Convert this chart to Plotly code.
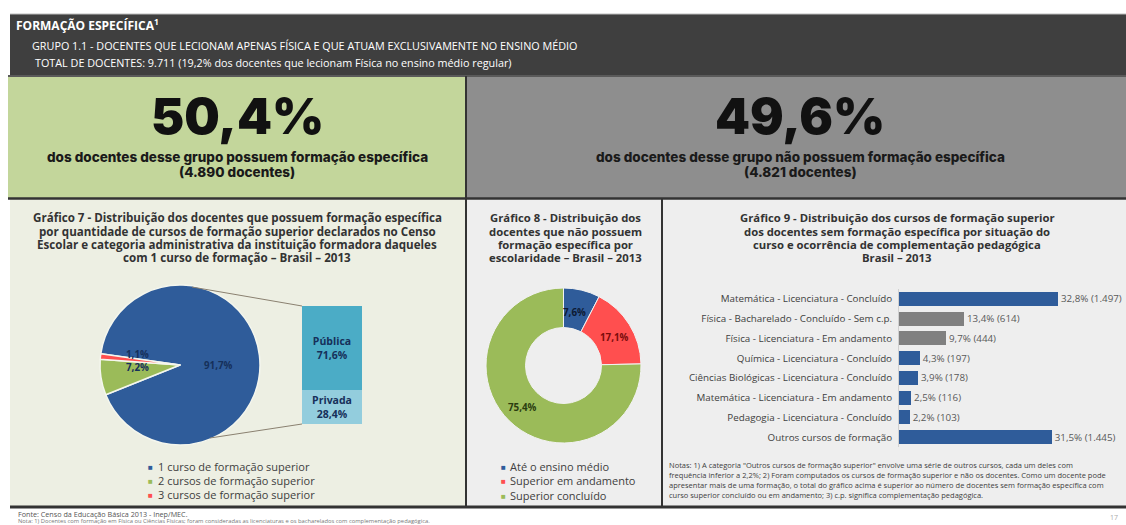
import plotly.graph_objects as go

W, H = 1126, 525

# ---------------- data ----------------
share_pct = [50.4, 49.6]
share_counts = ["4.890", "4.821"]
share_text = ["dos docentes desse grupo possuem formação específica",
              "dos docentes desse grupo não possuem formação específica"]

qtd_cats = ["1 curso de formação superior", "2 cursos de formação superior",
            "3 cursos de formação superior"]
qtd_vals = [91.7, 7.2, 1.1]
qtd_colors = ["#2f5c9a", "#9bbb59", "#ff4f4f"]

adm_cats = ["Privada", "Pública"]
adm_vals = [28.4, 71.6]
adm_colors = ["#93cddd", "#4bacc6"]

esc_cats = ["Até o ensino médio", "Superior em andamento", "Superior concluído"]
esc_vals = [7.6, 17.1, 75.4]
esc_colors = ["#2f5c9a", "#ff4f4f", "#9bbb59"]
esc_text_colors = ["#0d1a33", "#7a0c0c", "#2b3d10"]

curso_cats = ["Matemática - Licenciatura - Concluído",
              "Física - Bacharelado - Concluído - Sem c.p.",
              "Física - Licenciatura - Em andamento",
              "Química - Licenciatura - Concluído",
              "Ciências Biológicas - Licenciatura - Concluído",
              "Matemática - Licenciatura - Em andamento",
              "Pedagogia - Licenciatura - Concluído",
              "Outros cursos de formação"]
curso_pct = [32.8, 13.4, 9.7, 4.3, 3.9, 2.5, 2.2, 31.5]
curso_n = ["1.497", "614", "444", "197", "178", "116", "103", "1.445"]
curso_colors = ["#2f5c9a", "#808080", "#808080", "#2f5c9a",
                "#2f5c9a", "#2f5c9a", "#2f5c9a", "#2f5c9a"]


def br(v):
    return f"{v:.1f}".replace(".", ",") + "%"


def X(px):
    return px / W


def Y(py):
    return 1 - py / H


FONT = "Open Sans"
shapes = []
annotations = []


def rect(x0, y0, x1, y1, fill):
    shapes.append(dict(type="rect", xref="paper", yref="paper",
                       x0=X(x0), x1=X(x1), y0=Y(y1), y1=Y(y0),
                       fillcolor=fill, layer="below",
                       line=dict(color=fill, width=0)))


def seg(x0, y0, x1, y1, color, width=1, layer="above"):
    shapes.append(dict(type="line", xref="paper", yref="paper",
                       x0=X(x0), x1=X(x1), y0=Y(y0), y1=Y(y1), layer=layer,
                       line=dict(color=color, width=width)))


def text(px, py, s, size=10, color="#333333", weight=400, xanchor="center",
         align="center", family=FONT, yanchor="middle"):
    annotations.append(dict(x=X(px), y=Y(py), xref="paper", yref="paper",
                            text=s, showarrow=False, xanchor=xanchor,
                            yanchor=yanchor, align=align,
                            font=dict(family=family, size=size, color=color,
                                      weight=weight)))


def lines(px, py, rows, step, **kw):
    for i, row in enumerate(rows):
        text(px, py + i * step, row, **kw)


# ---------------- panels ----------------
rect(10, 14, 1126, 76, "#3f3f3f")
seg(10, 14, 1126, 14, "#bdbdbd", 1)
rect(8, 76, 466, 198, "#c3d69b")
rect(466, 76, 1126, 198, "#8e8e8e")
rect(10, 199, 466, 507, "#edefe3")
rect(466, 199, 662, 507, "#eeeeee")
rect(662, 199, 1126, 507, "#eeeeee")
seg(8, 76, 1126, 76, "#5a5a5a", 2)
seg(8, 198.5, 1126, 198.5, "#333333", 2.5)
seg(466, 76, 466, 507, "#333333", 2)
seg(662, 199, 662, 507, "#333333", 2)
seg(10, 507, 1126, 507, "#333333", 3)

# header
text(14, 25, "FORMAÇÃO ESPECÍFICA<sup>1</sup>", size=12, color="white",
     weight=700, xanchor="left")
text(30, 45, "GRUPO 1.1 - DOCENTES QUE LECIONAM APENAS FÍSICA E QUE ATUAM "
     "EXCLUSIVAMENTE NO ENSINO MÉDIO", size=10.8, color="white", xanchor="left")
text(33, 62, "TOTAL DE DOCENTES: 9.711 (19,2% dos docentes que lecionam Física "
     "no ensino médio regular)", size=10.8, color="white", xanchor="left")

# headline shares
for cx, pct, cnt, desc in zip([237, 800], share_pct, share_counts, share_text):
    text(cx, 116, br(pct), size=50, color="#111111", weight=900, family="Inter")
    text(cx, 157, desc, size=13.5, color="#1a1a1a", weight=800, family="Inter")
    text(cx, 172, f"({cnt} docentes)", size=13.5, color="#1a1a1a", weight=800,
         family="Inter")

# chart titles
TSTEP = 13.3
lines(237, 218, ["Gráfico 7 - Distribuição dos docentes que possuem formação específica",
                 "por quantidade de cursos de formação superior declarados no Censo",
                 "Escolar e categoria administrativa da instituição formadora daqueles",
                 "com 1 curso de formação – Brasil – 2013"],
      TSTEP, size=11.6, weight=700)
lines(565, 218, ["Gráfico 8 - Distribuição dos", "docentes que não possuem",
                 "formação específica por", "escolaridade – Brasil – 2013"],
      TSTEP, size=11.3, weight=700)
lines(897, 218, ["Gráfico 9 - Distribuição dos cursos de formação superior",
                 "dos docentes sem formação específica por situação do",
                 "curso e ocorrência de complementação pedagógica",
                 "Brasil – 2013"],
      TSTEP, size=11.3, weight=700)

# ---------------- Gráfico 7: pie + stacked box ----------------
fig = go.Figure()
fig.add_trace(go.Pie(values=qtd_vals, labels=qtd_cats, sort=False,
                     direction="clockwise", rotation=-82,
                     marker=dict(colors=qtd_colors, line=dict(color="#f4f6ee", width=1.5)),
                     textinfo="none", showlegend=False, hoverinfo="label+percent",
                     domain=dict(x=[X(100), X(260)], y=[Y(445), Y(285)])))
text(218, 365, br(qtd_vals[0]), size=9.8, weight=700, color="#16305a")
text(137, 367, br(qtd_vals[1]), size=9.8, weight=700, color="#16305a")
text(137, 354, br(qtd_vals[2]), size=9.8, weight=700, color="#16305a")

# connector lines from pie to the breakdown box
seg(192, 287, 302, 306, "#8a8070", 1)
seg(210, 438, 302, 424, "#8a8070", 1)

for cat, val, col in zip(adm_cats, adm_vals, adm_colors):
    fig.add_trace(go.Bar(x=[0], y=[val], width=1, xaxis="x2", yaxis="y2",
                         marker=dict(color=col, line=dict(width=0)),
                         text=[f"<b>{cat}</b><br><b>{br(val)}</b>"],
                         textposition="inside", insidetextanchor="middle",
                         textangle=0, constraintext="none",
                         textfont=dict(family=FONT, size=10.5, color="#16305a"),
                         showlegend=False, hoverinfo="skip"))

for i, (cat, col) in enumerate(zip(qtd_cats, qtd_colors)):
    py = 466 + 14 * i
    text(146, py, "■", size=8, color=col, xanchor="left")
    text(156, py, cat, size=11, color="#404040", xanchor="left")

# ---------------- Gráfico 8: donut ----------------
fig.add_trace(go.Pie(values=esc_vals, labels=esc_cats, sort=False, hole=0.49,
                     direction="clockwise", rotation=0,
                     marker=dict(colors=esc_colors, line=dict(color="#f2f2f2", width=1)),
                     textinfo="none", showlegend=False, hoverinfo="label+percent",
                     domain=dict(x=[X(486), X(641)], y=[Y(443), Y(288)])))
for (lx, ly), val, col in zip([(574, 312), (614, 337), (522, 407)], esc_vals,
                              esc_text_colors):
    text(lx, ly, br(val), size=9.8, weight=700, color=col)

for i, (cat, col) in enumerate(zip(esc_cats, esc_colors)):
    py = 466 + 14.5 * i
    text(499, py, "■", size=8, color=col, xanchor="left")
    text(508, py, cat, size=11, color="#404040", xanchor="left")

# ---------------- Gráfico 9: horizontal bars ----------------
fig.add_trace(go.Bar(y=curso_cats, x=curso_pct, orientation="h",
                     marker=dict(color=curso_colors, line=dict(width=0)),
                     text=[f"{br(p)} ({n})" for p, n in zip(curso_pct, curso_n)],
                     textposition="outside", cliponaxis=False, constraintext="none",
                     textfont=dict(family=FONT, size=9.8, color="#595959"),
                     showlegend=False, hoverinfo="x+y"))

lines(667, 465, ["Notas: 1) A categoria \"Outros cursos de formação superior\" envolve uma série de outros cursos, cada um deles com",
                 "frequência inferior a 2,2%; 2) Foram computados os cursos de formação superior e não os docentes. Como um docente pode",
                 "apresentar mais de uma formação, o total do gráfico acima é superior ao número de docentes sem formação específica com",
                 "curso superior concluído ou em andamento; 3) c.p. significa complementação pedagógica."],
      10, size=7.5, color="#404040", xanchor="left")

# footer
text(16, 514, "Fonte: Censo da Educação Básica 2013 - Inep/MEC.", size=7.2,
     color="#555555", xanchor="left")
text(16, 520.5, "Nota: 1) Docentes com formação em Física ou Ciências Físicas; foram consideradas "
     "as licenciaturas e os bacharelados com complementação pedagógica.",
     size=5.8, color="#777777", xanchor="left")
text(1120, 517, "17", size=7, color="#aaaaaa", xanchor="right")

bar_scale = 159 / curso_pct[0]  # pixels per percentage point

fig.update_layout(
    width=W, height=H, margin=dict(l=0, r=0, t=0, b=0),
    paper_bgcolor="white", plot_bgcolor="rgba(0,0,0,0)",
    barmode="stack", bargap=0.29,
    shapes=shapes, annotations=annotations,
    font=dict(family=FONT),
    xaxis=dict(domain=[X(899), 1], range=[0, (W - 899) / bar_scale],
               showgrid=False, zeroline=False, showticklabels=False, fixedrange=True),
    yaxis=dict(domain=[Y(447), Y(289)], autorange="reversed",
               categoryorder="array", categoryarray=curso_cats,
               showgrid=False, zeroline=False, showline=True,
               linecolor="#d0d0d0", linewidth=1, ticks="", ticklabelstandoff=4,
               tickfont=dict(family=FONT, size=9.8, color="#404040")),
    xaxis2=dict(domain=[X(302), X(362)], range=[-0.5, 0.5], visible=False,
                anchor="y2", fixedrange=True),
    yaxis2=dict(domain=[Y(424), Y(306)], range=[0, 100], visible=False,
                anchor="x2", fixedrange=True),
)

fig.write_html("out.html", config=dict(displayModeBar=False))
